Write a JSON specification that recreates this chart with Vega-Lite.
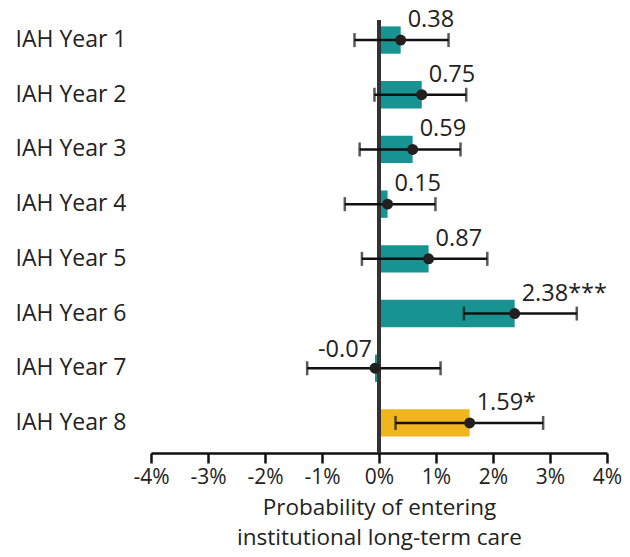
{
  "$schema": "https://vega.github.io/schema/vega-lite/v6.json",
  "autosize": {"type": "none"},
  "padding": {"left": 151, "top": 20, "right": 23, "bottom": 104},
  "width": 456,
  "height": 433,
  "background": "white",
  "config": {
    "view": {"stroke": null},
    "font": "Open Sans",
    "text": {"font": "Open Sans"}
  },
  "data": {
    "values": [
      {"year": "IAH Year 1", "est": 0.38, "lo": -0.43, "hi": 1.22, "label": "0.38", "group": "ns"},
      {"year": "IAH Year 2", "est": 0.75, "lo": -0.08, "hi": 1.53, "label": "0.75", "group": "ns"},
      {"year": "IAH Year 3", "est": 0.59, "lo": -0.34, "hi": 1.43, "label": "0.59", "group": "ns"},
      {"year": "IAH Year 4", "est": 0.15, "lo": -0.6, "hi": 0.99, "label": "0.15", "group": "ns"},
      {"year": "IAH Year 5", "est": 0.87, "lo": -0.3, "hi": 1.9, "label": "0.87", "group": "ns"},
      {"year": "IAH Year 6", "est": 2.38, "lo": 1.49, "hi": 3.47, "label": "2.38***", "group": "ns"},
      {"year": "IAH Year 7", "est": -0.07, "lo": -1.26, "hi": 1.08, "label": "-0.07", "group": "ns"},
      {"year": "IAH Year 8", "est": 1.59, "lo": 0.29, "hi": 2.88, "label": "1.59*", "group": "highlight"}
    ]
  },
  "encoding": {
    "y": {
      "field": "year",
      "type": "nominal",
      "sort": null,
      "scale": {"type": "band", "paddingInner": 0.5, "paddingOuter": 0.208, "align": 0.28},
      "axis": {
        "title": null,
        "domain": false,
        "ticks": false,
        "tickSize": 0,
        "labelAlign": "left",
        "labelBaseline": "middle",
        "labelPadding": 136,
        "labelFontSize": 23,
        "labelColor": "#222222",
        "labelFont": "Open Sans"
      }
    }
  },
  "layer": [
    {
      "mark": {"type": "bar"},
      "encoding": {
        "x": {
          "field": "est",
          "type": "quantitative",
          "scale": {"domain": [-4, 4], "nice": false, "zero": false},
          "axis": {
            "values": [-4, -3, -2, -1, 0, 1, 2, 3, 4],
            "labelExpr": "datum.value + '%'",
            "grid": false,
            "domainColor": "#111111",
            "domainWidth": 2.5,
            "tickColor": "#111111",
            "tickWidth": 2.5,
            "tickSize": 10,
            "labelFontSize": 21,
            "labelColor": "#222222",
            "labelPadding": 3,
            "labelFlush": false,
            "title": ["Probability of entering", "institutional long-term care"],
            "titleFontSize": 22.5,
            "titleFontWeight": "normal",
            "titleColor": "#222222",
            "titleLineHeight": 30,
            "titlePadding": 9
          }
        },
        "x2": {"datum": 0},
        "color": {
          "field": "group",
          "type": "nominal",
          "scale": {"domain": ["ns", "highlight"], "range": ["#179491", "#F1B51D"]},
          "legend": null
        }
      }
    },
    {
      "mark": {"type": "rule", "color": "#333333", "strokeWidth": 3},
      "encoding": {"x": {"datum": 0}, "y": null}
    },
    {
      "mark": {"type": "rule", "color": "#111111", "strokeWidth": 2.5},
      "encoding": {
        "x": {"field": "lo", "type": "quantitative"},
        "x2": {"field": "hi"}
      }
    },
    {
      "mark": {"type": "tick", "color": "#111111", "thickness": 2.5, "size": 14, "orient": "vertical"},
      "encoding": {"x": {"field": "lo", "type": "quantitative"}}
    },
    {
      "mark": {"type": "tick", "color": "#111111", "thickness": 2.5, "size": 14, "orient": "vertical"},
      "encoding": {"x": {"field": "hi", "type": "quantitative"}}
    },
    {
      "mark": {"type": "point", "filled": true, "shape": "circle", "size": 120, "color": "#231F20", "opacity": 1},
      "encoding": {"x": {"field": "est", "type": "quantitative"}}
    },
    {
      "transform": [{"filter": "datum.est >= 0"}],
      "mark": {"type": "text", "align": "left", "baseline": "alphabetic", "dx": 7, "dy": -13, "fontSize": 23.5, "color": "#222222", "font": "Open Sans"},
      "encoding": {
        "x": {"field": "est", "type": "quantitative"},
        "text": {"field": "label"}
      }
    },
    {
      "transform": [{"filter": "datum.est < 0"}],
      "mark": {"type": "text", "align": "right", "baseline": "alphabetic", "dx": -3, "dy": -11, "fontSize": 23.5, "color": "#222222", "font": "Open Sans"},
      "encoding": {
        "x": {"field": "est", "type": "quantitative"},
        "text": {"field": "label"}
      }
    }
  ]
}
